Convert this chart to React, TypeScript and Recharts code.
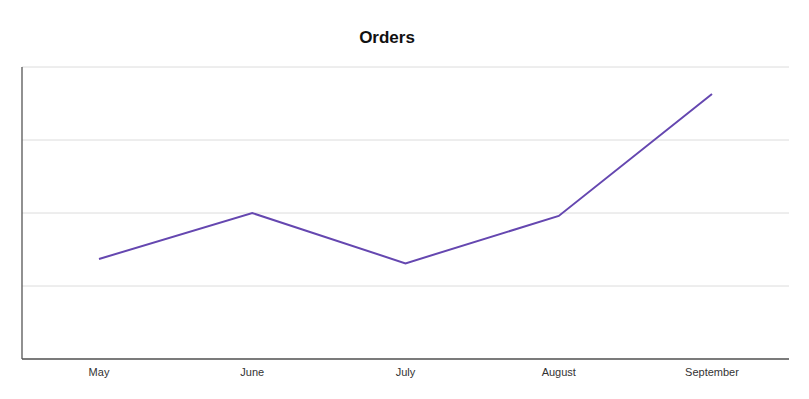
import { CartesianGrid, Line, LineChart, XAxis, YAxis } from 'recharts';

const months = ['May', 'June', 'July', 'August', 'September'];
const orders = [1.37, 2.0, 1.31, 1.96, 3.63];
const yTicks = [0, 1, 2, 3, 4];

const data = months.map((m, i) => ({ month: m, orders: orders[i] }));

/** Single-series line chart of monthly orders. */
export default function App() {
  return (
    <div
      style={{
        position: 'absolute',
        left: 0,
        top: 0,
        width: 809,
        height: 399,
        background: '#fff',
        fontFamily: '"Liberation Sans", Arial, sans-serif',
      }}
    >
      <div
        style={{
          position: 'absolute',
          left: 287,
          width: 200,
          top: 27,
          textAlign: 'center',
          fontSize: 17,
          fontWeight: 700,
          color: '#111',
          lineHeight: '22px',
        }}
      >
        Orders
      </div>
      <LineChart width={809} height={399} data={data} margin={{ top: 67, right: 20, bottom: 39, left: 21 }}>
        <CartesianGrid vertical={false} stroke="#dcdcdc" strokeWidth={1} />
        <XAxis
          dataKey="month"
          height={1}
          padding={{ left: 77, right: 77 }}
          axisLine={{ stroke: '#555', strokeWidth: 1.3 }}
          tickLine={false}
          tickMargin={3}
          tick={{ fontSize: 11, fill: '#333', fontFamily: '"Liberation Sans", Arial, sans-serif' }}
          interval={0}
        />
        <YAxis
          width={1}
          domain={[0, 4]}
          ticks={yTicks}
          tick={() => <g />}
          tickLine={false}
          axisLine={{ stroke: '#555', strokeWidth: 1.3 }}
        />
        <Line
          type="linear"
          dataKey="orders"
          stroke="#6547b0"
          strokeWidth={2}
          dot={false}
          activeDot={false}
          isAnimationActive={false}
        />
      </LineChart>
    </div>
  );
}
